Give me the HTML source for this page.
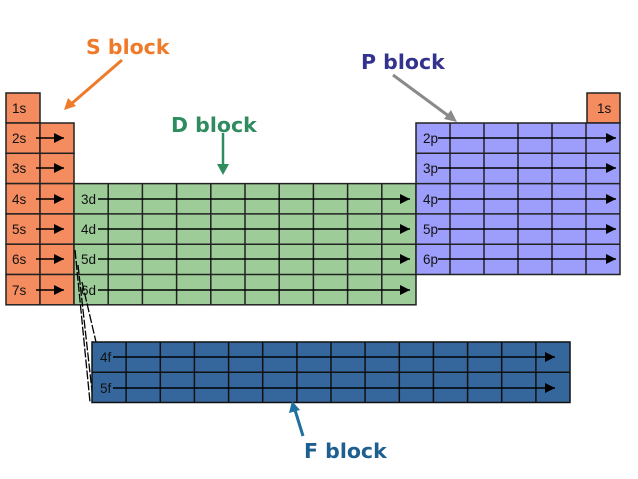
<!DOCTYPE html>
<html><head><meta charset="utf-8"><style>
html,body{margin:0;padding:0;background:#fff;}
svg{display:block}
.l{font-family:"Liberation Sans",sans-serif;font-size:13.5px;fill:#111}
.t{font-family:"DejaVu Sans",sans-serif;font-size:20.5px;font-weight:bold}
</style></head><body>
<svg width="638" height="479" viewBox="0 0 638 479" xmlns="http://www.w3.org/2000/svg">
<defs>
<marker id="ah" viewBox="0 0 10 10" refX="10" refY="5" markerWidth="10" markerHeight="10" markerUnits="userSpaceOnUse" orient="auto"><path d="M0,0 L10,5 L0,10 z" fill="#000"/></marker>
</defs>
<g fill="#f58c5f" stroke="#222" stroke-width="1.5">
<rect x="6" y="93" width="34" height="30"/>
<rect x="587" y="93" width="33" height="30"/>
<rect x="6" y="123" width="34" height="30.3"/><rect x="40" y="123" width="34" height="30.3"/>
<rect x="6" y="153.3" width="34" height="30.3"/><rect x="40" y="153.3" width="34" height="30.3"/>
<rect x="6" y="183.6" width="34" height="30.3"/><rect x="40" y="183.6" width="34" height="30.3"/>
<rect x="6" y="213.9" width="34" height="30.3"/><rect x="40" y="213.9" width="34" height="30.3"/>
<rect x="6" y="244.2" width="34" height="30.3"/><rect x="40" y="244.2" width="34" height="30.3"/>
<rect x="6" y="274.5" width="34" height="30.3"/><rect x="40" y="274.5" width="34" height="30.3"/>
</g>
<g class="l">
<text x="12" y="113">1s</text><text x="597" y="113">1s</text>
<text x="12" y="143">2s</text><text x="12" y="173">3s</text><text x="12" y="204">4s</text>
<text x="12" y="234">5s</text><text x="12" y="264">6s</text><text x="12" y="295">7s</text>
</g>
<g stroke="#000" stroke-width="1.5" marker-end="url(#ah)">
<line x1="36" y1="138" x2="64" y2="138"/><line x1="36" y1="168" x2="64" y2="168"/>
<line x1="36" y1="199" x2="64" y2="199"/><line x1="36" y1="229" x2="64" y2="229"/>
<line x1="36" y1="259" x2="64" y2="259"/><line x1="36" y1="290" x2="64" y2="290"/>
</g>
<rect x="74" y="183.6" width="342" height="121.2" fill="#9dcc98" stroke="#222" stroke-width="1.5"/>
<g stroke="#222" stroke-width="1.5">
<line x1="108.2" y1="183.6" x2="108.2" y2="304.8"/><line x1="142.4" y1="183.6" x2="142.4" y2="304.8"/>
<line x1="176.6" y1="183.6" x2="176.6" y2="304.8"/><line x1="210.8" y1="183.6" x2="210.8" y2="304.8"/>
<line x1="245" y1="183.6" x2="245" y2="304.8"/><line x1="279.2" y1="183.6" x2="279.2" y2="304.8"/>
<line x1="313.4" y1="183.6" x2="313.4" y2="304.8"/><line x1="347.6" y1="183.6" x2="347.6" y2="304.8"/>
<line x1="381.8" y1="183.6" x2="381.8" y2="304.8"/>
<line x1="74" y1="213.9" x2="416" y2="213.9"/><line x1="74" y1="244.2" x2="416" y2="244.2"/><line x1="74" y1="274.5" x2="416" y2="274.5"/>
</g>
<g class="l"><text x="81" y="204">3d</text><text x="81" y="234">4d</text><text x="81" y="264">5d</text><text x="81" y="295">6d</text></g>
<g stroke="#000" stroke-width="1.5" marker-end="url(#ah)">
<line x1="98" y1="199" x2="410" y2="199"/><line x1="98" y1="229" x2="410" y2="229"/>
<line x1="98" y1="259" x2="410" y2="259"/><line x1="98" y1="290" x2="410" y2="290"/>
</g>
<rect x="416" y="123" width="204" height="151.5" fill="#9d9dfb" stroke="#222" stroke-width="1.5"/>
<g stroke="#222" stroke-width="1.5">
<line x1="450" y1="123" x2="450" y2="274.5"/><line x1="484" y1="123" x2="484" y2="274.5"/>
<line x1="518" y1="123" x2="518" y2="274.5"/><line x1="552" y1="123" x2="552" y2="274.5"/>
<line x1="586" y1="123" x2="586" y2="274.5"/>
<line x1="416" y1="153.3" x2="620" y2="153.3"/><line x1="416" y1="183.6" x2="620" y2="183.6"/>
<line x1="416" y1="213.9" x2="620" y2="213.9"/><line x1="416" y1="244.2" x2="620" y2="244.2"/>
</g>
<g class="l"><text x="423" y="143">2p</text><text x="423" y="173">3p</text><text x="423" y="204">4p</text><text x="423" y="234">5p</text><text x="423" y="264">6p</text></g>
<g stroke="#000" stroke-width="1.5" marker-end="url(#ah)">
<line x1="438" y1="138" x2="616" y2="138"/><line x1="438" y1="168" x2="616" y2="168"/>
<line x1="438" y1="199" x2="616" y2="199"/><line x1="438" y1="229" x2="616" y2="229"/>
<line x1="438" y1="259" x2="616" y2="259"/>
</g>
<g stroke="#000" stroke-width="1.3" stroke-dasharray="9,2" fill="none">
<line x1="75" y1="250" x2="90" y2="402"/>
<line x1="78" y1="265" x2="93" y2="400"/>
<line x1="82" y1="282" x2="96" y2="342"/>
</g>
<rect x="92" y="342" width="478" height="60.5" fill="#35669c" stroke="#111" stroke-width="1.5"/>
<g stroke="#111" stroke-width="1.5">
<line x1="126.1" y1="342" x2="126.1" y2="402.5"/><line x1="160.3" y1="342" x2="160.3" y2="402.5"/>
<line x1="194.4" y1="342" x2="194.4" y2="402.5"/><line x1="228.6" y1="342" x2="228.6" y2="402.5"/>
<line x1="262.7" y1="342" x2="262.7" y2="402.5"/><line x1="296.9" y1="342" x2="296.9" y2="402.5"/>
<line x1="331" y1="342" x2="331" y2="402.5"/><line x1="365.1" y1="342" x2="365.1" y2="402.5"/>
<line x1="399.3" y1="342" x2="399.3" y2="402.5"/><line x1="433.4" y1="342" x2="433.4" y2="402.5"/>
<line x1="467.6" y1="342" x2="467.6" y2="402.5"/><line x1="501.7" y1="342" x2="501.7" y2="402.5"/>
<line x1="535.9" y1="342" x2="535.9" y2="402.5"/>
<line x1="92" y1="372.2" x2="570" y2="372.2"/>
</g>
<g class="l"><text x="100" y="362">4f</text><text x="100" y="393">5f</text></g>
<g stroke="#000" stroke-width="1.5" marker-end="url(#ah)">
<line x1="113" y1="357" x2="555" y2="357"/><line x1="113" y1="388" x2="555" y2="388"/>
</g>
<text class="t" x="86" y="54" fill="#ee7a2a">S block</text>
<text class="t" x="361" y="69" fill="#33338f">P block</text>
<text class="t" x="171" y="132" fill="#2f8c5e">D block</text>
<text class="t" x="304" y="458" fill="#1f5f8f">F block</text>
<line x1="122" y1="60" x2="70" y2="105" stroke="#ee7a2a" stroke-width="3"/>
<path d="M64,110 L68,98 L76,106 z" fill="#ee7a2a"/>
<line x1="393" y1="75" x2="450" y2="117" stroke="#8a8a8a" stroke-width="3"/>
<path d="M457,122 L444,119 L451,110 z" fill="#8a8a8a"/>
<line x1="223" y1="133" x2="223" y2="166" stroke="#2f8c5e" stroke-width="2.5"/>
<path d="M223,175 L217,164 L229,164 z" fill="#2f8c5e"/>
<line x1="303" y1="436" x2="295" y2="410" stroke="#1f6f9f" stroke-width="3"/>
<path d="M292,401 L289,413 L300,410 z" fill="#1f6f9f"/>
</svg>
</body></html>
